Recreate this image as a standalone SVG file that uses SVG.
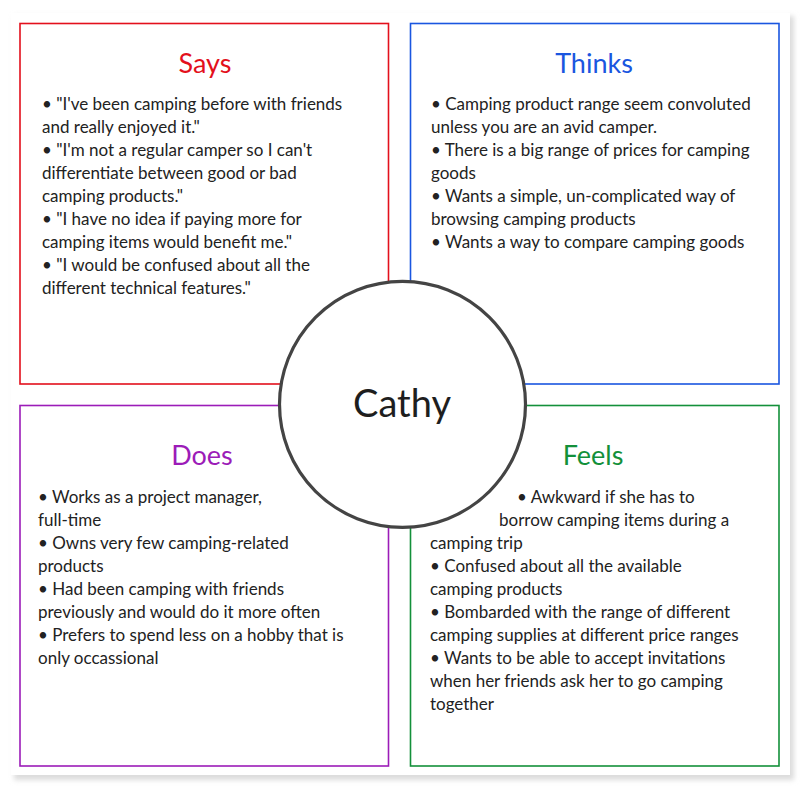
<svg xmlns="http://www.w3.org/2000/svg" width="800" height="791" viewBox="0 0 800 791">
<style>
.box{fill:#fff;stroke-width:1.6}
.title{font-family:Lato,"Open Sans","Liberation Sans",sans-serif;font-size:27px;text-anchor:middle}
.body{font-family:Lato,"Open Sans","Liberation Sans",sans-serif;font-size:17px;fill:#222}
</style>
<defs>
<filter id="sh" x="-5%" y="-5%" width="110%" height="110%">
<feGaussianBlur stdDeviation="2.5"/>
</filter>
</defs>
<rect width="800" height="791" fill="#fff"/>
<rect x="14" y="16" width="780" height="764" fill="#dcdcdc" filter="url(#sh)"/>
<rect x="11" y="13" width="779" height="762" fill="#fff"/>

<g id="says">
<rect class="box" x="20" y="23.5" width="368.5" height="360.5" stroke="#e3101c"/>
<text class="title" x="205" y="73" fill="#e3101c">Says</text>
<text class="body">
<tspan x="42" y="110">• "I've been camping before with friends</tspan>
<tspan x="42" y="133">and really enjoyed it."</tspan>
<tspan x="42" y="156">• "I'm not a regular camper so I can't</tspan>
<tspan x="42" y="179">differentiate between good or bad</tspan>
<tspan x="42" y="202">camping products."</tspan>
<tspan x="42" y="225">• "I have no idea if paying more for</tspan>
<tspan x="42" y="248">camping items would benefit me."</tspan>
<tspan x="42" y="271">• "I would be confused about all the</tspan>
<tspan x="42" y="294">different technical features."</tspan>
</text>
</g>

<g id="thinks">
<rect class="box" x="410.5" y="23.5" width="368.5" height="360.5" stroke="#1a56e0"/>
<text class="title" x="594" y="73" fill="#1a56e0">Thinks</text>
<text class="body">
<tspan x="431" y="110">• Camping product range seem convoluted</tspan>
<tspan x="431" y="133">unless you are an avid camper.</tspan>
<tspan x="431" y="156">• There is a big range of prices for camping</tspan>
<tspan x="431" y="179">goods</tspan>
<tspan x="431" y="202">• Wants a simple, un-complicated way of</tspan>
<tspan x="431" y="225">browsing camping products</tspan>
<tspan x="431" y="248">• Wants a way to compare camping goods</tspan>
</text>
</g>

<g id="does">
<rect class="box" x="20" y="405.5" width="368.5" height="360.5" stroke="#9c1cb8"/>
<text class="title" x="202" y="465" fill="#9c1cb8">Does</text>
<text class="body">
<tspan x="38" y="503">• Works as a project manager,</tspan>
<tspan x="38" y="526">full-time</tspan>
<tspan x="38" y="549">• Owns very few camping-related</tspan>
<tspan x="38" y="572">products</tspan>
<tspan x="38" y="595">• Had been camping with friends</tspan>
<tspan x="38" y="618">previously and would do it more often</tspan>
<tspan x="38" y="641">• Prefers to spend less on a hobby that is</tspan>
<tspan x="38" y="664">only occassional</tspan>
</text>
</g>

<g id="feels">
<rect class="box" x="410.5" y="405.5" width="368.5" height="360.5" stroke="#13903a"/>
<text class="title" x="593" y="465" fill="#13903a">Feels</text>
<text class="body">
<tspan x="517" y="503">• Awkward if she has to</tspan>
<tspan x="499" y="526">borrow camping items during a</tspan>
<tspan x="430" y="549">camping trip</tspan>
<tspan x="430" y="572">• Confused about all the available</tspan>
<tspan x="430" y="595">camping products</tspan>
<tspan x="430" y="618">• Bombarded with the range of different</tspan>
<tspan x="430" y="641">camping supplies at different price ranges</tspan>
<tspan x="430" y="664">• Wants to be able to accept invitations</tspan>
<tspan x="430" y="687">when her friends ask her to go camping</tspan>
<tspan x="430" y="710">together</tspan>
</text>
</g>

<g id="cathy">
<circle cx="402.5" cy="404.3" r="123" fill="#fff" stroke="#444" stroke-width="3.2"/>
<text x="402" y="417" font-family="Lato,'Open Sans','Liberation Sans',sans-serif" font-size="38" fill="#1e1e1e" text-anchor="middle">Cathy</text>
</g>

<g id="connectors"></g>
</svg>
